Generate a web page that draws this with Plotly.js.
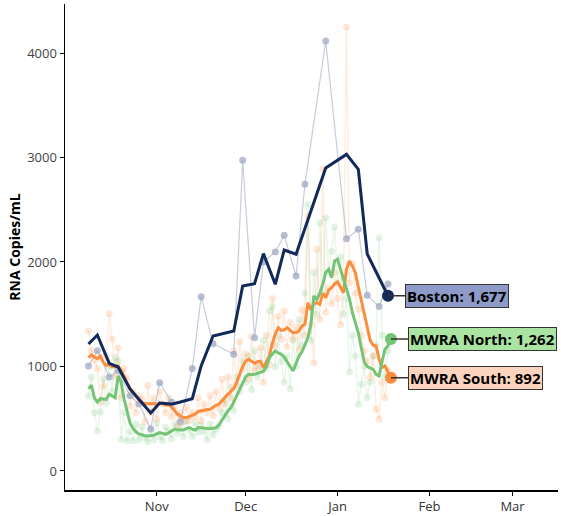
<!DOCTYPE html>
<html>
<head>
<meta charset="utf-8">
<script src="https://cdn.plot.ly/plotly-3.0.1.min.js"></script>
<style>html,body{margin:0;padding:0;background:#fff;}#chart{width:561px;height:516px;}</style>
</head>
<body>
<div id="chart"></div>
<script>
// ---- Boston (sampled, roughly twice weekly) ----
const bostonDates = ["2020-10-09","2020-10-12","2020-10-16","2020-10-19","2020-10-23","2020-10-26","2020-10-30","2020-11-02","2020-11-06","2020-11-09","2020-11-13","2020-11-16","2020-11-20","2020-11-27","2020-11-30","2020-12-04","2020-12-07","2020-12-11","2020-12-14","2020-12-18","2020-12-21","2020-12-28","2021-01-04","2021-01-08","2021-01-11","2021-01-15","2021-01-18"];
const bostonRaw = [1005,1150,900,960,720,640,405,845,660,470,980,1668,1218,1117,2973,1276,2000,2096,2255,1866,2745,4115,2223,2313,1681,1575,1790];
const bostonAvgDates = ["2020-10-09","2020-10-12","2020-10-16","2020-10-19","2020-10-23","2020-10-26","2020-10-30","2020-11-02","2020-11-06","2020-11-09","2020-11-13","2020-11-16","2020-11-20","2020-11-27","2020-11-30","2020-12-04","2020-12-07","2020-12-11","2020-12-14","2020-12-18","2020-12-21","2020-12-28","2021-01-04","2021-01-08","2021-01-11","2021-01-18"];
const bostonAvg = [1215,1301,1030,995,785,690,555,650,640,660,692,1005,1292,1340,1770,1792,2080,1787,2115,2074,2328,2900,3030,2887,2077,1677];

// ---- MWRA daily, 2020-10-09 .. 2021-01-19 ----
const mwraStart = "2020-10-09";
const southRaw = [1340,1150,1060,980,655,813,1100,1505,1260,900,1180,700,980,893,620,760,560,720,690,470,820,560,700,497,760,640,558,700,520,610,430,560,470,610,480,560,520,700,480,640,560,720,530,760,600,880,640,900,700,1150,820,1240,980,1120,880,1290,960,1000,1180,850,1300,1020,1650,1200,1480,1260,1530,1190,1420,1270,1380,1160,1540,1300,2440,1400,1036,2121,1450,2893,1520,1750,1600,1900,1650,1400,1850,4249,1800,1980,1700,1550,1300,1150,1050,900,1100,590,494,850,700,960,880];
const southAvg = [1084,1110,1090,1075,1100,1040,1010,1021,995,1000,1005,965,900,845,790,750,710,680,655,645,644,648,645,638,645,648,630,635,610,574,545,526,512,510,520,530,545,570,578,585,588,590,610,628,638,670,711,735,760,790,850,925,1000,1050,1069,1050,1031,1045,1050,990,1040,1100,1220,1310,1371,1345,1350,1371,1345,1323,1325,1340,1388,1404,1611,1540,1600,1611,1595,1700,1658,1730,1754,1790,1809,1760,1706,1930,2010,1962,1898,1760,1630,1500,1370,1250,1203,1196,1069,990,1005,941,892];
const northRaw = [720,900,558,383,565,880,650,1000,760,1084,1050,303,560,287,380,290,450,300,420,320,280,390,300,460,330,290,420,380,310,450,360,420,330,480,390,330,460,370,440,380,300,450,350,400,430,560,680,500,800,580,900,760,1050,850,1100,780,1150,900,1000,1250,980,1531,1579,1000,1300,1050,850,1100,788,1250,1000,1450,1200,1700,2552,1250,1900,1500,2376,1700,2424,1900,2100,2335,1800,2050,1500,1650,947,1300,1100,638,830,1000,700,850,1100,1200,2233,1300,900,1150,1250];
const northAvg = [788,820,700,660,692,690,686,734,720,701,909,850,690,560,460,410,375,355,345,338,335,338,341,355,367,360,351,365,380,399,395,392,392,405,415,400,392,415,412,415,410,405,408,415,440,480,530,575,606,660,718,770,830,900,925,920,925,935,941,955,1000,1084,1120,1148,1130,1117,1090,1040,1000,957,1030,1100,1140,1200,1276,1400,1675,1643,1700,1787,1900,1930,1850,2010,2026,1930,1834,1750,1650,1515,1420,1323,1180,1040,1000,985,973,925,909,1050,1165,1200,1262];

const tickDates = ["2020-11-01","2020-12-01","2021-01-01","2021-02-01","2021-03-01"];
const tickLabels = ["Nov","Dec","Jan","Feb","Mar"];
const yTicks = [0,1000,2000,3000,4000];

function dayList(start, n){
  const out=[]; const d0=new Date(start+"T00:00:00Z");
  for(let i=0;i<n;i++){const d=new Date(d0.getTime()+i*86400000); out.push(d.toISOString().slice(0,10));}
  return out;
}
const mwraDates = dayList(mwraStart, southAvg.length);

const NAVY="#13295a", GREEN="#74c476", ORANGE="#fd8d3c";
const last = a => a[a.length-1];

const traces = [
  {x:mwraDates,y:northRaw,mode:"lines+markers",line:{color:"rgba(116,196,118,0.16)",width:1.5},marker:{color:"rgba(116,196,118,0.2)",size:7},hoverinfo:"skip"},
  {x:mwraDates,y:southRaw,mode:"lines+markers",line:{color:"rgba(253,141,60,0.16)",width:1.5},marker:{color:"rgba(253,141,60,0.2)",size:7},hoverinfo:"skip"},
  {x:bostonDates,y:bostonRaw,mode:"lines+markers",line:{color:"rgba(160,170,195,0.6)",width:1.2},marker:{color:"rgba(160,170,195,0.75)",size:7},hoverinfo:"skip"},
  {x:mwraDates,y:southAvg,mode:"lines",line:{color:ORANGE,width:3}},
  {x:mwraDates,y:northAvg,mode:"lines",line:{color:GREEN,width:3}},
  {x:bostonAvgDates,y:bostonAvg,mode:"lines",line:{color:NAVY,width:3}},
  {x:[last(bostonAvgDates)],y:[last(bostonAvg)],mode:"markers",marker:{color:NAVY,size:12}},
  {x:[last(mwraDates)],y:[last(northAvg)],mode:"markers",marker:{color:GREEN,size:12}},
  {x:[last(mwraDates)],y:[last(southAvg)],mode:"markers",marker:{color:ORANGE,size:12}}
];

function fmt(v){return v.toLocaleString("en-US");}
function lab(x,y,text,bg){
  return {x:x,y:y,xref:"x",yref:"y",text:"<b>"+text+"</b>",showarrow:true,arrowhead:0,arrowwidth:1.5,arrowcolor:"#333",
    ax:17,ay:0,xanchor:"left",yanchor:"middle",bgcolor:bg,bordercolor:"#333",borderwidth:1,borderpad:1,
    font:{family:"Open Sans, sans-serif",size:15,color:"#000"}};
}

const layout = {
  width:561,height:516,
  margin:{l:65,r:3,t:4,b:26},
  paper_bgcolor:"#fff",plot_bgcolor:"#fff",
  showlegend:false,
  font:{family:"Open Sans, sans-serif",size:13,color:"#333"},
  xaxis:{type:"date",range:["2020-10-01 02:00","2021-03-16 08:00"],tickvals:tickDates,ticktext:tickLabels,
    showline:true,linecolor:"#000",linewidth:1.5,ticks:"outside",ticklen:4,tickcolor:"#000",showgrid:false,zeroline:false,
    tickfont:{size:13,color:"#333"}},
  yaxis:{range:[-182,4469],tickvals:yTicks,ticktext:yTicks.map(String),showline:true,linecolor:"#000",linewidth:1.5,
    ticks:"outside",ticklen:4,tickcolor:"#000",showgrid:false,zeroline:false,tickfont:{size:13,color:"#444"},
    title:{text:"<b>RNA Copies/mL</b>",font:{size:14,color:"#000"},standoff:3}},
  annotations:[
    lab(last(bostonAvgDates),last(bostonAvg),"Boston: "+fmt(last(bostonAvg)),"#8e9bc8"),
    lab(last(mwraDates),last(northAvg),"MWRA North: "+fmt(last(northAvg)),"#a9e4a3"),
    lab(last(mwraDates),last(southAvg),"MWRA South: "+fmt(last(southAvg)),"#fcd3bc")
  ]
};

Plotly.newPlot("chart",traces,layout,{displayModeBar:false,staticPlot:true});
</script>
</body>
</html>
